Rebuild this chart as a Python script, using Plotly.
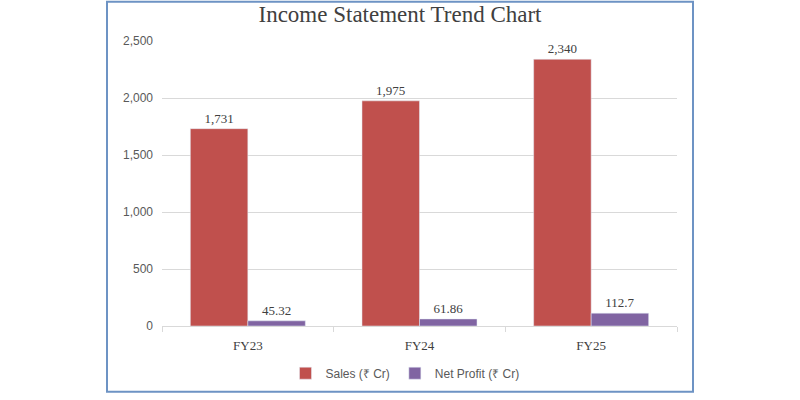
import plotly.graph_objects as go

categories = ["FY23", "FY24", "FY25"]
sales = [1731, 1975, 2340]
net_profit = [45.32, 61.86, 112.7]
y_ticks = [0, 500, 1000, 1500, 2000, 2500]

L, R, T, B = 162, 123, 41, 69
W, H = 800, 400
pw, ph = W - L - R, H - T - B

fig = go.Figure()
fig.add_trace(go.Bar(
    x=categories, y=sales, name="Sales (₹ Cr)",
    marker=dict(color="#C0504D"),
    texttemplate="%{y:,}", textposition="outside",
    textfont=dict(family="Liberation Serif", size=13, color="#404040"),
    cliponaxis=False,
))
fig.add_trace(go.Bar(
    x=categories, y=net_profit, name="Net Profit (₹ Cr)",
    marker=dict(color="#8064A2"),
    texttemplate="%{y:,}", textposition="outside",
    textfont=dict(family="Liberation Serif", size=13, color="#404040"),
    cliponaxis=False,
))

fig.update_layout(
    width=W, height=H,
    margin=dict(l=L, r=R, t=T, b=B, pad=0),
    paper_bgcolor="white", plot_bgcolor="white",
    barmode="group", bargap=0.33, bargroupgap=0,
    title=dict(text="Income Statement Trend Chart", x=0.5, xanchor="center",
               xref="container", y=1 - 14 / H, yanchor="middle", yref="container",
               font=dict(family="Liberation Serif", size=23, color="#404040")),
    legend=dict(orientation="h", x=(405 - L) / pw, xanchor="center",
                y=(H - B - 379) / ph, yanchor="middle",
                font=dict(family="Liberation Sans", size=12, color="#595959"),
                itemwidth=30, traceorder="normal"),
    showlegend=True,
    xaxis=dict(showline=True, linecolor="#D9D9D9", linewidth=1,
               ticks="outside", tickson="boundaries", ticklen=5, tickcolor="#D9D9D9",
               showgrid=False, ticklabelstandoff=7,
               tickfont=dict(family="Liberation Serif", size=13, color="#404040")),
    yaxis=dict(range=[0, 2500], tickvals=y_ticks, tickformat=",",
               showgrid=True, gridcolor="#D9D9D9", gridwidth=1,
               zeroline=False, showline=False, ticks="",
               ticklabelstandoff=8,
               tickfont=dict(family="Liberation Sans", size=12, color="#595959")),
)

fig.add_shape(type="rect", xref="paper", yref="paper",
              x0=(107 - L) / pw, x1=(693 - L) / pw,
              y0=(H - B - 398) / ph, y1=(H - B - 1) / ph,
              line=dict(color="#6D93C4", width=2), fillcolor="rgba(0,0,0,0)",
              layer="above")

fig.write_html("out.html")
